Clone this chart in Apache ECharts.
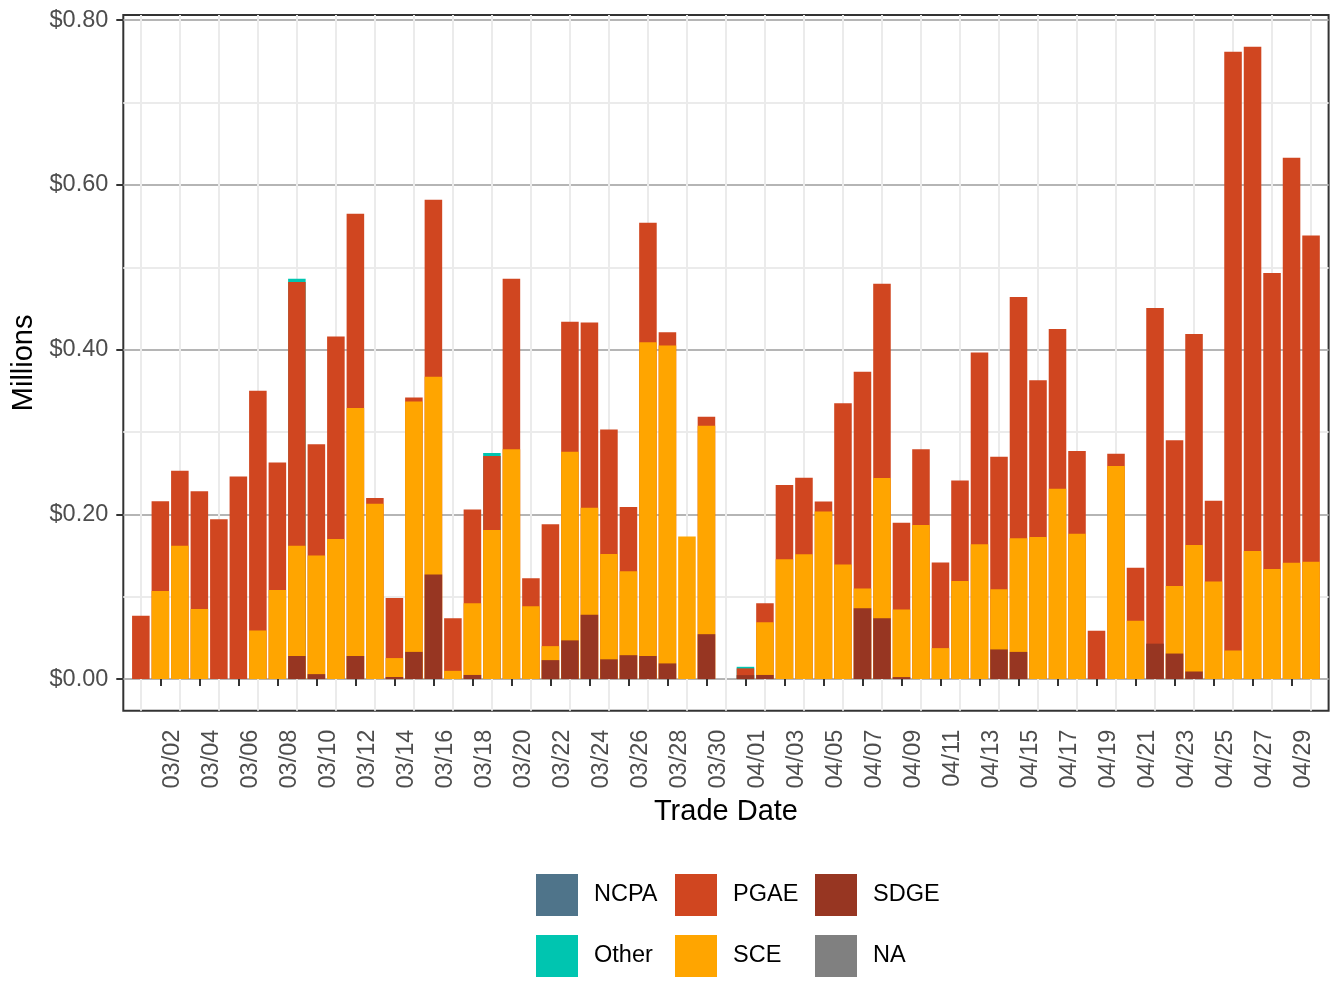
<!DOCTYPE html>
<html>
<head>
<meta charset="utf-8">
<script src="https://cdn.jsdelivr.net/npm/echarts@6/dist/echarts.min.js"></script>
<style>
  html, body { margin: 0; padding: 0; background: #fff; }
  #main { width: 1344px; height: 1008px; }
</style>
</head>
<body>
<div id="main"></div>
<script>
// Trade dates (03/31 had nothing traded)
var dates = [
  '03/01', '03/02', '03/03', '03/04', '03/05', '03/06', '03/07', '03/08', '03/09', '03/10',
  '03/11', '03/12', '03/13', '03/14', '03/15', '03/16', '03/17', '03/18', '03/19', '03/20',
  '03/21', '03/22', '03/23', '03/24', '03/25', '03/26', '03/27', '03/28', '03/29', '03/30',
  '03/31', '04/01', '04/02', '04/03', '04/04', '04/05', '04/06', '04/07', '04/08', '04/09',
  '04/10', '04/11', '04/12', '04/13', '04/14', '04/15', '04/16', '04/17', '04/18', '04/19',
  '04/20', '04/21', '04/22', '04/23', '04/24', '04/25', '04/26', '04/27', '04/28', '04/29',
  '04/30'
];

// Values in $ millions, one per trade date
var sdge = [
  0, 0, 0, 0, 0, 0, 0, 0, 0.028, 0.006,
  0, 0.028, 0, 0.0025, 0.033, 0.127, 0, 0.005, 0, 0,
  0, 0.023, 0.047, 0.078, 0.024, 0.029, 0.028, 0.019, 0, 0.0545,
  0, 0.0048, 0.005, 0, 0, 0, 0, 0.086, 0.074, 0.0024,
  0, 0, 0, 0, 0.036, 0.033, 0, 0, 0, 0,
  0, 0, 0.043, 0.031, 0.0092, 0, 0, 0, 0, 0,
  0
];
var sce = [
  0, 0.107, 0.162, 0.085, 0, 0, 0.059, 0.108, 0.134, 0.144,
  0.170, 0.301, 0.213, 0.023, 0.304, 0.240, 0.010, 0.087, 0.181, 0.279,
  0.0885, 0.017, 0.229, 0.130, 0.128, 0.102, 0.381, 0.386, 0.173, 0.253,
  0, 0, 0.064, 0.1455, 0.1515, 0.2036, 0.139, 0.024, 0.170, 0.082,
  0.187, 0.0376, 0.119, 0.1636, 0.073, 0.138, 0.1724, 0.231, 0.1765, 0,
  0.2587, 0.0709, 0, 0.082, 0.1536, 0.1184, 0.0347, 0.1556, 0.1337, 0.1413,
  0.1423
];
var pgae = [
  0.077, 0.109, 0.091, 0.143, 0.194, 0.246, 0.291, 0.155, 0.320, 0.135,
  0.246, 0.236, 0.007, 0.073, 0.005, 0.215, 0.064, 0.114, 0.090, 0.207,
  0.034, 0.148, 0.158, 0.225, 0.151, 0.078, 0.145, 0.016, 0, 0.011,
  0, 0.0082, 0.023, 0.090, 0.093, 0.012, 0.196, 0.263, 0.236, 0.1055,
  0.092, 0.104, 0.122, 0.233, 0.161, 0.293, 0.1904, 0.194, 0.1005, 0.0587,
  0.0148, 0.0643, 0.4076, 0.177, 0.2561, 0.098, 0.727, 0.6123, 0.3592, 0.4918,
  0.3964
];
var other = [
  0, 0, 0, 0, 0, 0, 0, 0, 0.004, 0,
  0, 0, 0, 0, 0, 0, 0, 0, 0.0036, 0,
  0, 0, 0, 0, 0, 0, 0, 0, 0, 0,
  0, 0.0019, 0, 0, 0, 0, 0, 0, 0, 0,
  0, 0, 0, 0, 0, 0, 0, 0, 0, 0,
  0, 0, 0, 0, 0, 0, 0, 0, 0, 0,
  0
];
var ncpa = [];
var naVals = [];

var yTicks = [0, 0.2, 0.4, 0.6, 0.8];
var yMinorTicks = [0.1, 0.3, 0.5, 0.7];
var yMin = -0.0384, yMax = 0.8063;

var YEAR = 2024;
var DAY = 86400000;
var FONT = '"Liberation Sans", Arial, Helvetica, sans-serif';
var LABEL_SHIFT = 0.63 * DAY; // rotated labels sit just right of their tick

function toTime(d) {
  var p = d.split('/');
  return Date.UTC(YEAR, +p[0] - 1, +p[1]);
}
var times = dates.map(toTime);
// ticks on 03/02, 03/04, ...; light grid lines on the days in between
var tickTimes = times.filter(function (t, i) { return i % 2 === 1; });
var labelTimes = tickTimes.map(function (t) { return t + LABEL_SHIFT; });
var gridTimes = times.filter(function (t, i) { return i % 2 === 0; });
var xMin = times[0] - 0.9 * DAY;
var xMax = times[times.length - 1] + 0.9 * DAY;

function fmtDate(t) {
  var d = new Date(t);
  var m = d.getUTCMonth() + 1, day = d.getUTCDate();
  return (m < 10 ? '0' : '') + m + '/' + (day < 10 ? '0' : '') + day;
}

// bottom of the stack first
var groups = [
  { name: 'NA', color: '#808080', data: naVals },
  { name: 'SDGE', color: '#973622', data: sdge },
  { name: 'SCE', color: '#FFA500', data: sce },
  { name: 'PGAE', color: '#D04620', data: pgae },
  { name: 'Other', color: '#00C5B0', data: other },
  { name: 'NCPA', color: '#4F748A', data: ncpa }
];

// Stack by hand: each layer is drawn from zero up to its running total,
// taller layers first so the lower ones are painted over them.
// Days where a layer adds nothing are left out of it.
var running = times.map(function () { return 0; });
var series = groups.map(function (g) {
  var pts = [];
  g.data.forEach(function (v, i) {
    running[i] += v;
    if (v > 0) pts.push([times[i], running[i]]);
  });
  return {
    name: g.name,
    type: 'bar',
    barWidth: '90%',
    barGap: '-100%',
    xAxisIndex: 0,
    yAxisIndex: 0,
    itemStyle: { color: g.color },
    data: pts
  };
}).reverse();

function legendCol(left, names) {
  return {
    orient: 'vertical',
    left: left,
    top: 874,
    padding: 0,
    itemWidth: 42,
    itemHeight: 42,
    itemGap: 19,
    icon: 'rect',
    selectedMode: false,
    textStyle: { fontFamily: FONT, fontSize: 23.5, color: '#000', padding: [0, 0, 0, 11] },
    data: names
  };
}

var chart = echarts.init(document.getElementById('main'));
var option = {
  animation: false,
  backgroundColor: '#fff',
  textStyle: { fontFamily: FONT },
  grid: {
    left: 123.3, right: 15.4, top: 15, bottom: 297.3,
    show: true, borderColor: '#333', borderWidth: 2,
    outerBoundsMode: 'none'
  },
  legend: [
    legendCol(536, ['NCPA', 'Other']),
    legendCol(675, ['PGAE', 'SCE']),
    legendCol(815, ['SDGE', 'NA'])
  ],
  xAxis: [
    {
      type: 'value',
      min: xMin,
      max: xMax,
      position: 'bottom',
      name: 'Trade Date',
      nameLocation: 'middle',
      nameGap: 87,
      nameTextStyle: { fontFamily: FONT, fontSize: 29, color: '#000' },
      axisLine: { show: false },
      axisTick: { show: true, customValues: tickTimes, length: 7, lineStyle: { color: '#333', width: 2 } },
      axisLabel: {
        customValues: labelTimes,
        rotate: 90,
        margin: 19,
        fontFamily: FONT,
        fontSize: 23.5,
        color: '#4D4D4D',
        formatter: fmtDate
      },
      splitLine: { show: false }
    },
    {
      // light vertical grid lines between the ticked days
      type: 'value',
      min: xMin,
      max: xMax,
      position: 'top',
      axisLine: { show: false },
      axisTick: { show: false, customValues: gridTimes },
      axisLabel: { show: false },
      splitLine: { show: true, lineStyle: { color: '#EBEBEB', width: 2 } }
    }
  ],
  yAxis: [
    {
      type: 'value',
      min: yMin,
      max: yMax,
      name: 'Millions',
      nameLocation: 'middle',
      nameGap: 82,
      nameTextStyle: { fontFamily: FONT, fontSize: 29, color: '#000' },
      axisLine: { show: false },
      axisTick: { show: true, customValues: yTicks, length: 7, lineStyle: { color: '#333', width: 2 } },
      axisLabel: {
        customValues: yTicks,
        margin: 15,
        fontFamily: FONT,
        fontSize: 23.5,
        color: '#4D4D4D',
        formatter: function (v) { return '$' + v.toFixed(2); }
      },
      splitLine: { show: true, lineStyle: { color: '#B5B5B5', width: 2 } }
    },
    {
      // minor horizontal grid lines
      type: 'value',
      min: yMin,
      max: yMax,
      axisLine: { show: false },
      axisTick: { show: false, customValues: yMinorTicks },
      axisLabel: { show: false },
      splitLine: { show: true, lineStyle: { color: '#EBEBEB', width: 2 } }
    }
  ],
  series: series
};

chart.setOption(option);
</script>
</body>
</html>
